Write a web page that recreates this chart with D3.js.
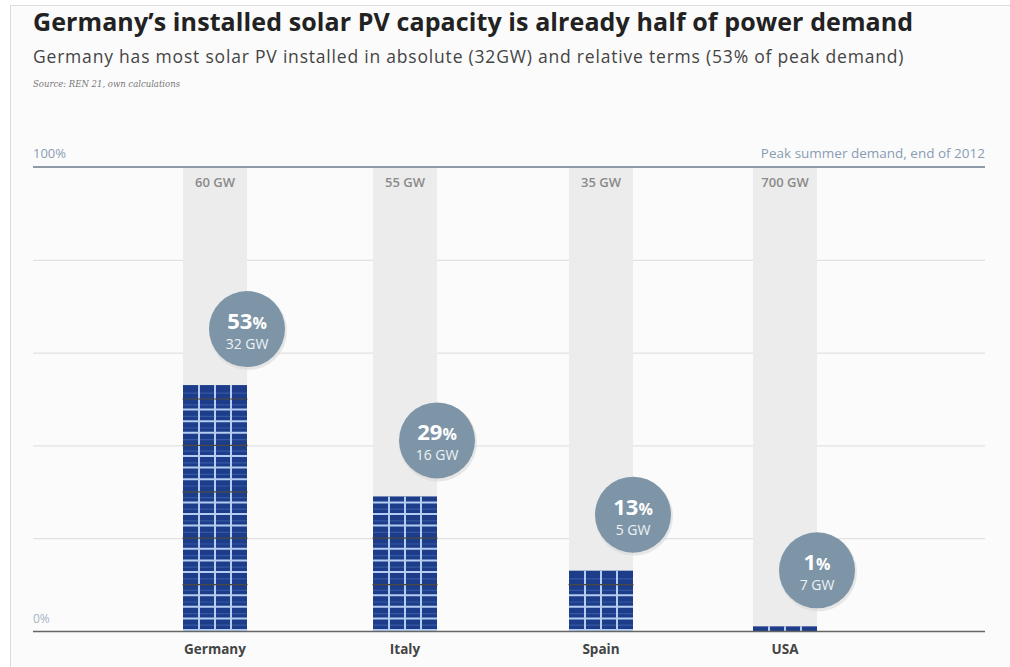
<!DOCTYPE html>
<html>
<head>
<meta charset="utf-8">
<script src="https://cdn.jsdelivr.net/npm/d3@7"></script>
<style>
  html, body { margin: 0; padding: 0; background: #ffffff; }
  svg { display: block; }
</style>
</head>
<body>
<svg id="chart" width="1010" height="667"></svg>
<script>
// Solar PV installed vs. peak summer demand
const countries = ["Germany", "Italy", "Spain", "USA"];
const shareOfPeak = [53, 29, 13, 1];          // % of peak demand
const installedGW = [32, 16, 5, 7];           // installed PV, GW
const peakDemandGW = [60, 55, 35, 700];       // peak summer demand, GW
const yTicks = [0, 20, 40, 60, 80, 100];

(function () {
const svg = d3.select("#chart");
const W = 1010, H = 667;
const plotLeft = 33, plotRight = 985, plotTop = 167, plotBottom = 631;

// panel
svg.append("rect").attr("x", 10.5).attr("y", 5.5).attr("width", W).attr("height", H)
  .attr("fill", "#fbfbfb").attr("stroke", "#dcdcdc");

// titles
svg.append("text").attr("x", plotLeft).attr("y", 31)
  .attr("font-family", "Open Sans, sans-serif").attr("font-weight", 700)
  .attr("font-size", 25).attr("fill", "#222").attr("letter-spacing", 0.1)
  .text("Germany’s installed solar PV capacity is already half of power demand");
svg.append("text").attr("x", plotLeft).attr("y", 63)
  .attr("font-family", "Open Sans, sans-serif").attr("font-size", 17.5)
  .attr("fill", "#444").attr("letter-spacing", 0.8)
  .text("Germany has most solar PV installed in absolute (32GW) and relative terms (53% of peak demand)");
svg.append("text").attr("x", plotLeft).attr("y", 87)
  .attr("font-family", "DejaVu Serif, serif").attr("font-style", "italic")
  .attr("font-size", 8.5).attr("fill", "#777")
  .text("Source: REN 21, own calculations");

const y = d3.scaleLinear().domain([0, 100]).range([plotBottom, plotTop]);
const x = d3.scaleOrdinal().domain(countries).range([215, 405, 601, 785]);
const barW = 64;

// gridlines
svg.append("g").selectAll("line").data(yTicks.filter(t => t > 0 && t < 100)).join("line")
  .attr("x1", plotLeft).attr("x2", plotRight)
  .attr("y1", d => y(d) + 0.5).attr("y2", d => y(d) + 0.5)
  .attr("stroke", "#dcdcdc").attr("stroke-width", 1);

// demand columns (100% of peak)
svg.append("g").selectAll("rect").data(countries).join("rect")
  .attr("x", d => x(d) - barW / 2).attr("width", barW)
  .attr("y", y(100)).attr("height", y(0) - y(100))
  .attr("fill", "#ececec");

svg.append("g").selectAll("text").data(countries).join("text")
  .attr("x", d => x(d)).attr("y", y(100) + 20)
  .attr("text-anchor", "middle")
  .attr("font-family", "Open Sans, sans-serif").attr("font-weight", 600)
  .attr("font-size", 13).attr("fill", "#8a8a8a")
  .text((d, i) => peakDemandGW[i] + " GW");

// top axis line and labels
svg.append("line").attr("x1", plotLeft).attr("x2", plotRight)
  .attr("y1", y(100)).attr("y2", y(100))
  .attr("stroke", "#8e9aa8").attr("stroke-width", 2);
svg.append("text").attr("x", plotLeft).attr("y", y(100) - 9)
  .attr("font-family", "Open Sans, sans-serif").attr("font-size", 13)
  .attr("fill", "#8a9bb3").text(yTicks[5] + "%");
svg.append("text").attr("x", plotLeft).attr("y", y(0) - 8)
  .attr("font-family", "Open Sans, sans-serif").attr("font-size", 12)
  .attr("fill", "#a8b4c4").text(yTicks[0] + "%");
svg.append("text").attr("x", plotRight).attr("y", y(100) - 9).attr("text-anchor", "end")
  .attr("font-family", "Open Sans, sans-serif").attr("font-size", 13.5)
  .attr("fill", "#8a9bb3").text("Peak summer demand, end of 2012");

// solar panel bars
const panels = svg.append("g");
countries.forEach((c, i) => {
  const x0 = x(c) - barW / 2;
  const v = shareOfPeak[i];
  const yTop = y(v);
  const g = panels.append("g");
  g.append("rect").attr("x", x0).attr("y", yTop).attr("width", barW)
    .attr("height", y(0) - yTop).attr("fill", "#1d3c89");
  // cell rows every 2.5%, module edges every 10%
  const rows = d3.range(0, v, 2.5).filter(d => v - d > 1);
  // faint mid-cell line
  g.selectAll(".mid").data(rows.filter(d => d + 1.25 < v - 0.5)).join("line")
    .attr("x1", x0).attr("x2", x0 + barW)
    .attr("y1", d => y(d + 1.25)).attr("y2", d => y(d + 1.25))
    .attr("stroke", "#3558a6").attr("stroke-width", 1.2);
  g.selectAll(".row").data(rows.filter(d => d % 10 !== 0 || d === 0)).join("line")
    .attr("x1", x0).attr("x2", x0 + barW)
    .attr("y1", d => y(d) - 1).attr("y2", d => y(d) - 1)
    .attr("stroke", "#b6cdf2").attr("stroke-width", 2);
  // vertical cell dividers
  g.selectAll(".col").data([1, 2, 3]).join("line")
    .attr("x1", d => x0 + d * barW / 4).attr("x2", d => x0 + d * barW / 4)
    .attr("y1", yTop).attr("y2", y(0))
    .attr("stroke", "#b6cdf2").attr("stroke-width", 2);
  g.selectAll(".edge").data(rows.filter(d => d % 10 === 0 && d > 0)).join("line")
    .attr("x1", x0 - 0.5).attr("x2", x0 + barW + 0.5)
    .attr("y1", d => y(d)).attr("y2", d => y(d))
    .attr("stroke", "#4d4840").attr("stroke-width", 1.2);
});

// baseline
svg.append("line").attr("x1", plotLeft).attr("x2", plotRight)
  .attr("y1", y(0) + 0.5).attr("y2", y(0) + 0.5)
  .attr("stroke", "#666").attr("stroke-width", 1.5);

// country labels
svg.append("g").selectAll("text").data(countries).join("text")
  .attr("x", d => x(d)).attr("y", y(0) + 23).attr("text-anchor", "middle")
  .attr("font-family", "Open Sans, sans-serif").attr("font-weight", 700)
  .attr("font-size", 13.5).attr("fill", "#444").text(d => d);

// value bubbles
const bub = svg.append("g").selectAll("g").data(countries).join("g")
  .attr("transform", (d, i) => `translate(${x(d) + barW / 2},${y(shareOfPeak[i]) - 56})`);
bub.append("circle").attr("r", 39).attr("cx", 1).attr("cy", 2).attr("fill", "#d8d8d8").attr("opacity", 0.6);
bub.append("circle").attr("r", 38).attr("fill", "#7d95a6");
const pt = bub.append("text").attr("text-anchor", "middle").attr("y", 0)
  .attr("font-family", "Open Sans, sans-serif").attr("font-weight", 700)
  .attr("fill", "#fff");
pt.append("tspan").attr("font-size", 22).text((d, i) => shareOfPeak[i]);
pt.append("tspan").attr("font-size", 16).text("%");
bub.append("text").attr("text-anchor", "middle").attr("y", 20)
  .attr("font-family", "Open Sans, sans-serif").attr("font-size", 14)
  .attr("fill", "#eef2f6").text((d, i) => installedGW[i] + " GW");
})();
</script>
</body>
</html>
